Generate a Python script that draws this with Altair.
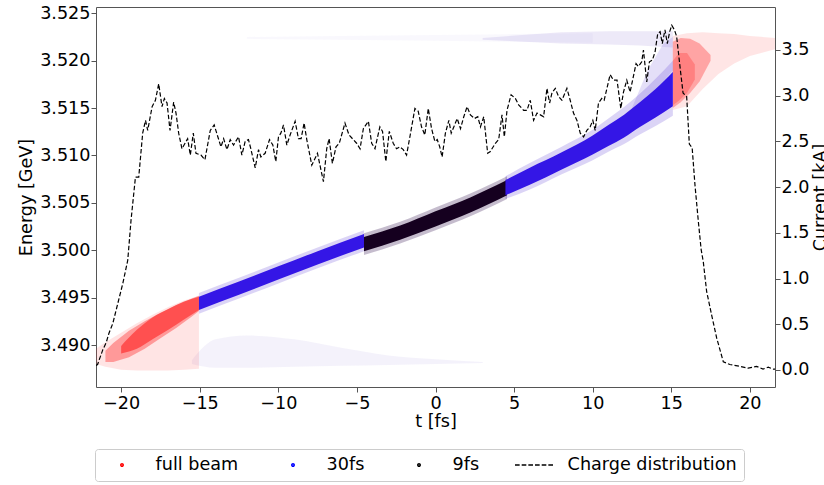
import altair as alt
import pandas as pd

# ---------------- axes ----------------
T_DOMAIN = [-21.6, 21.6]
E_DOMAIN = [3.48557, 3.52566]
I_DOMAIN = [-0.186, 3.970]
T_TICKS = [-20, -15, -10, -5, 0, 5, 10, 15, 20]
E_TICKS = [3.490, 3.495, 3.500, 3.505, 3.510, 3.515, 3.520, 3.525]
I_TICKS = [0.0, 0.5, 1.0, 1.5, 2.0, 2.5, 3.0, 3.5]

SERIES = ["full beam", "30fs", "9fs", "Charge distribution"]
SERIES_COLORS = ["#ff0000", "#0000ff", "#000000", "#000000"]

# ---------------- charge distribution (current, kA) ----------------
CUR_T = [-21.6, -21.5, -21.17, -20.95, -20.78, -20.53, -20.21, -19.89, -19.58, -19.37,
         -19.09, -18.88, -18.63, -18.45, -18.31, -18.03, -17.82, -17.61, -17.40, -17.25,
         -17.08, -16.89, -16.66, -16.51, -16.34, -16.13, -15.77, -15.60, -15.41, -15.24,
         -14.92, -14.67, -14.33, -14.08, -13.65, -13.48, -13.27, -13.06, -12.85, -12.53,
         -12.32, -12.11, -11.90, -11.75, -11.47, -11.26, -11.11, -10.84, -10.56, -10.35,
         -10.16, -9.99, -9.84, -9.67, -9.46, -9.25, -8.93, -8.72, -8.55, -8.36,
         -8.19, -7.87, -7.51, -7.13, -6.92, -6.77, -6.56, -6.33, -6.12, -5.76,
         -5.50, -5.23, -5.02, -4.80, -4.59, -4.27, -4.06, -3.85, -3.54, -3.37,
         -3.16, -2.94, -2.69, -2.48, -2.27, -2.05, -1.84, -1.63, -1.31, -1.10,
         -0.89, -0.68, -0.46, -0.25, -0.04, 0.11, 0.27, 0.42, 0.63, 0.85,
         1.00, 1.17, 1.38, 1.59, 1.80, 2.01, 2.22, 2.48, 2.69, 2.86,
         3.07, 3.32, 3.49, 3.81, 4.02, 4.23, 4.38, 4.55, 4.81, 5.08,
         5.29, 5.61, 5.82, 6.03, 6.24, 6.46, 6.67, 6.88, 7.09, 7.26,
         7.41, 7.62, 7.83, 8.04, 8.36, 8.57, 8.78, 9.00, 9.21, 9.42,
         9.63, 9.84, 10.01, 10.16, 10.37, 10.58, 10.73, 11.11, 11.32, 11.55,
         11.79, 11.96, 12.17, 12.38, 12.59, 12.76, 12.91, 13.12, 13.23, 13.44,
         13.61, 13.80, 13.97, 14.14, 14.29, 14.43, 14.60, 14.75, 14.90, 15.03,
         15.20, 15.34, 15.45, 15.60, 15.75, 15.98, 16.15, 16.33, 16.51, 16.72,
         16.90, 17.04, 17.25, 17.57, 17.89, 18.31, 18.73, 19.37, 19.89, 20.43,
         20.84, 21.17, 21.49, 21.6]
CUR_I = [0.05, 0.06, 0.22, 0.30, 0.40, 0.51, 0.73, 0.95, 1.20, 1.64,
         2.11, 2.11, 2.59, 2.73, 2.62, 2.88, 2.95, 3.13, 2.88, 2.97,
         2.92, 2.62, 2.93, 2.81, 2.59, 2.42, 2.53, 2.35, 2.59, 2.37,
         2.35, 2.30, 2.62, 2.68, 2.44, 2.53, 2.41, 2.52, 2.46, 2.55,
         2.35, 2.50, 2.52, 2.42, 2.21, 2.41, 2.33, 2.37, 2.52, 2.46,
         2.28, 2.55, 2.59, 2.68, 2.46, 2.57, 2.72, 2.53, 2.53, 2.70,
         2.52, 2.24, 2.37, 2.06, 2.42, 2.53, 2.26, 2.44, 2.48, 2.70,
         2.57, 2.52, 2.48, 2.42, 2.64, 2.72, 2.48, 2.42, 2.66, 2.61,
         2.28, 2.61, 2.48, 2.42, 2.44, 2.41, 2.35, 2.55, 2.86, 2.83,
         2.66, 2.57, 2.86, 2.64, 2.50, 2.52, 2.44, 2.33, 2.59, 2.73,
         2.59, 2.66, 2.75, 2.64, 2.77, 2.88, 2.79, 2.75, 2.77, 2.66,
         2.77, 2.37, 2.39, 2.48, 2.52, 2.79, 2.55, 2.84, 3.01, 2.97,
         2.90, 2.84, 2.84, 2.95, 2.73, 2.81, 2.79, 2.77, 3.08, 2.92,
         3.03, 3.08, 2.99, 2.95, 3.08, 2.95, 2.81, 2.73, 2.59, 2.55,
         2.62, 2.66, 2.73, 2.62, 2.92, 2.97, 2.95, 3.23, 3.17, 3.17,
         2.86, 3.04, 3.17, 3.04, 3.21, 3.35, 3.32, 3.37, 3.50, 3.15,
         3.37, 3.39, 3.48, 3.68, 3.70, 3.57, 3.72, 3.57, 3.70, 3.77,
         3.72, 3.65, 3.48, 3.25, 3.03, 2.99, 2.47, 2.43, 2.02, 1.63,
         1.32, 1.18, 0.86, 0.60, 0.35, 0.09, 0.06, 0.04, 0.02, 0.04,
         0.01, 0.03, 0.01, 0.01]

# ---------------- beam (energy bands, GeV) ----------------
LOWHALO_T = [-15.5, -14, -12, -9, -6, -3, 0, 3]
LOWHALO_LO = [3.4880, 3.4876, 3.4876, 3.4877, 3.4878, 3.4879, 3.4880, 3.4881]
LOWHALO_HI = [3.4884, 3.4906, 3.4910, 3.4906, 3.4897, 3.4889, 3.4885, 3.4882]

TOPFAINT_T = [-12, -6, 0, 5, 10]
TOPFAINT_LO = [3.5223, 3.5222, 3.5221, 3.5220, 3.5219]
TOPFAINT_HI = [3.5225, 3.5226, 3.5227, 3.5228, 3.5229]

TOPDENSE_T = [3, 8, 11, 13, 15.1]
TOPDENSE_LO = [3.5222, 3.5218, 3.5217, 3.5216, 3.5214]
TOPDENSE_HI = [3.5224, 3.5230, 3.5231, 3.5231, 3.5231]

BPLUME_T = [12.5, 13.5, 14.5, 15.1]
BPLUME_LO = [3.5145, 3.5160, 3.5178, 3.5190]
BPLUME_HI = [3.5150, 3.5190, 3.5218, 3.5225]

RLHALO_T = [-21.6, -21, -20, -19, -18, -17, -16, -15.05]
RLHALO_LO = [3.4880, 3.4877, 3.4874, 3.4873, 3.4873, 3.4873, 3.4874, 3.4875]
RLHALO_HI = [3.4896, 3.4903, 3.4913, 3.4923, 3.4932, 3.4940, 3.4947, 3.4952]

RLMID_T = [-21, -20.5, -19.5, -18.5, -17.5, -16.5, -15.5, -15.05]
RLMID_LO = [3.4882, 3.4882, 3.4887, 3.4896, 3.4907, 3.4918, 3.4930, 3.4936]
RLMID_HI = [3.4894, 3.4902, 3.4915, 3.4925, 3.4934, 3.4942, 3.4949, 3.4952]

RLCORE_T = [-20, -19, -18, -17, -16, -15.05]
RLCORE_LO = [3.4891, 3.4896, 3.4906, 3.4916, 3.4927, 3.4937]
RLCORE_HI = [3.4899, 3.4916, 3.4929, 3.4938, 3.4946, 3.4951]

RRHALO_T = [15.1, 16, 17, 18, 19, 20, 21.6]
RRHALO_LO = [3.5148, 3.5152, 3.5170, 3.5186, 3.5197, 3.5205, 3.5212]
RRHALO_HI = [3.5226, 3.5229, 3.5230, 3.5229, 3.5228, 3.5226, 3.5224]

RRDENSE_T = [15.1, 15.6, 16.2, 16.8, 17.5]
RRDENSE_LO = [3.5150, 3.5156, 3.5166, 3.5178, 3.5200]
RRDENSE_HI = [3.5220, 3.5224, 3.5223, 3.5218, 3.5206]

RRCORE_T = [15.1, 15.5, 16.0, 16.5]
RRCORE_LO = [3.5153, 3.5158, 3.5166, 3.5180]
RRCORE_HI = [3.5200, 3.5208, 3.5208, 3.5196]

BLHALO_T = [-15.05, -12.5, -10, -7.5, -4.55]
BLHALO_LO = [3.4933, 3.4949, 3.4965, 3.4981, 3.4999]
BLHALO_HI = [3.4955, 3.4971, 3.4987, 3.5003, 3.5021]

BLCORE_T = [-15.05, -12.5, -10, -7.5, -4.55]
BLCORE_LO = [3.4937, 3.4953, 3.4969, 3.4985, 3.5003]
BLCORE_HI = [3.4951, 3.4967, 3.4983, 3.4999, 3.5017]

KHALO_T = [-4.55, -2.25, 0, 2.25, 4.55]
KHALO_LO = [3.4995, 3.5007, 3.5021, 3.5036, 3.5054]
KHALO_HI = [3.5018, 3.5030, 3.5045, 3.5060, 3.5078]

KCORE_T = [-4.55, -2.25, 0, 2.25, 4.55]
KCORE_LO = [3.4999, 3.5011, 3.5025, 3.5040, 3.5058]
KCORE_HI = [3.5014, 3.5026, 3.5041, 3.5056, 3.5074]

BRHALO_T = [4.45, 6, 8, 10, 11, 12, 13, 14, 15.1]
BRHALO_LO = [3.5054, 3.5064, 3.5080, 3.5095, 3.5104, 3.5112, 3.5122, 3.5131, 3.5142]
BRHALO_HI = [3.5078, 3.5092, 3.5109, 3.5127, 3.5139, 3.5151, 3.5165, 3.5181, 3.5200]

BRCORE_T = [4.45, 6, 8, 10, 11, 12, 13, 14, 15.1]
BRCORE_LO = [3.5058, 3.5069, 3.5085, 3.5101, 3.5110, 3.5119, 3.5130, 3.5140, 3.5152]
BRCORE_HI = [3.5074, 3.5087, 3.5103, 3.5121, 3.5132, 3.5143, 3.5156, 3.5170, 3.5188]

FONT = "DejaVu Sans"
FS = 17.6

x_enc = alt.X(
    "t:Q",
    scale=alt.Scale(domain=T_DOMAIN, nice=False, zero=False),
    axis=alt.Axis(values=T_TICKS, format="d", title="t [fs]", tickSize=5, labelPadding=2,
                  titleX=339.5, titleY=39.5, titleBaseline="alphabetic", titleAlign="center"),
)

e_scale = alt.Scale(domain=E_DOMAIN, nice=False, zero=False)
e_axis = alt.Axis(values=E_TICKS, format=".3f", title="Energy [GeV]", tickSize=5, labelPadding=1,
                  titleAngle=270, titleX=-64.3, titleY=190, titleAlign="center",
                  titleBaseline="alphabetic")


def band(t, lo, hi, color, opacity, interp="linear"):
    df = pd.DataFrame({"t": t, "lo": lo, "hi": hi})
    return alt.Chart(df).mark_area(color=color, opacity=opacity, clip=True,
                                   interpolate=interp).encode(
        x=x_enc,
        y=alt.Y("lo:Q", scale=e_scale, axis=e_axis),
        y2="hi:Q",
    )


layers = [
    band(LOWHALO_T, LOWHALO_LO, LOWHALO_HI, "#8a70d0", 0.09, "monotone"),
    band(TOPFAINT_T, TOPFAINT_LO, TOPFAINT_HI, "#9a80d8", 0.06),
    band(TOPDENSE_T, TOPDENSE_LO, TOPDENSE_HI, "#8060d0", 0.14),
    band(BPLUME_T, BPLUME_LO, BPLUME_HI, "#6a50d8", 0.18),
    band(RLHALO_T, RLHALO_LO, RLHALO_HI, "#ff4040", 0.14),
    band(RLMID_T, RLMID_LO, RLMID_HI, "#ff3333", 0.42),
    band(RRHALO_T, RRHALO_LO, RRHALO_HI, "#ff4a4a", 0.14),
    band(RRDENSE_T, RRDENSE_LO, RRDENSE_HI, "#ff3a3a", 0.38),
    band(RRCORE_T, RRCORE_LO, RRCORE_HI, "#ff3030", 0.30),
    band(BLHALO_T, BLHALO_LO, BLHALO_HI, "#5a3cd8", 0.22, "monotone"),
    band(BRHALO_T, BRHALO_LO, BRHALO_HI, "#5a3cd8", 0.22, "monotone"),
    band(KHALO_T, KHALO_LO, KHALO_HI, "#30104a", 0.28, "monotone"),
    band(RLCORE_T, RLCORE_LO, RLCORE_HI, "#ff1f1f", 0.6, "monotone"),
    band(BLCORE_T, BLCORE_LO, BLCORE_HI, "#3416e6", 1.0, "monotone"),
    band(KCORE_T, KCORE_LO, KCORE_HI, "#15001f", 1.0, "monotone"),
    band(BRCORE_T, BRCORE_LO, BRCORE_HI, "#3416e6", 1.0, "monotone"),
]

# legend-only layer (no drawable coordinates -> filtered out)
DOT = "M0.065,0A0.065,0.065 0 1,1 -0.065,0A0.065,0.065 0 1,1 0.065,0Z"
DASH = ("M-1,0L-0.755,0M-0.649,0L-0.404,0M-0.298,0L-0.053,0"
        "M0.053,0L0.298,0M0.404,0L0.649,0M0.755,0L1,0")
leg = alt.Legend(title=None, orient="none", legendX=-1, legendY=442, direction="horizontal",
                 columns=4, padding=7, strokeColor="#cccccc", fillColor="white",
                 cornerRadius=3, labelFont=FONT, labelFontSize=FS, labelColor="black",
                 labelOffset=13.6, columnPadding=34, symbolSize=1444, clipHeight=18,
                 labelLimit=400, symbolStrokeWidth=1.5)
leg_df = pd.DataFrame({"series": SERIES, "t": [None] * 4, "E": [None] * 4})
legend_layer = alt.Chart(leg_df).mark_point(filled=False, size=1444, opacity=1,
                                            strokeWidth=1.5).encode(
    x=x_enc,
    y=alt.Y("E:Q", scale=e_scale, axis=e_axis),
    color=alt.Color("series:N", scale=alt.Scale(domain=SERIES, range=SERIES_COLORS), legend=leg),
    shape=alt.Shape("series:N", scale=alt.Scale(domain=SERIES, range=[DOT, DOT, DOT, DASH]),
                    legend=leg),
)

beam = alt.layer(*layers, legend_layer)

cur_df = pd.DataFrame({"t": CUR_T, "I": CUR_I})
line = alt.Chart(cur_df).mark_line(color="black", strokeWidth=1.2, strokeDash=[4.5, 2.2],
                                   clip=True).encode(
    x=x_enc,
    y=alt.Y("I:Q", scale=alt.Scale(domain=I_DOMAIN, nice=False, zero=False),
            axis=alt.Axis(orient="right", values=I_TICKS, format=".1f", title="Current [kA]",
                          tickSize=5, labelPadding=1, titleAngle=270, titleX=50.8, titleY=190,
                          titleAlign="center", titleBaseline="alphabetic")),
)

chart = alt.layer(beam, line).resolve_scale(y="independent").properties(
    width=679, height=380,
    autosize=alt.AutoSizeParams(type="none"),
    padding={"left": 96, "top": 7, "right": 49, "bottom": 98},
).configure_axis(
    labelFont=FONT, titleFont=FONT, labelFontSize=FS, titleFontSize=FS,
    labelColor="black", titleColor="black", titleFontWeight="normal",
    tickColor="#555555", domain=False, grid=False,
).configure_view(stroke="#555555", strokeWidth=1)

chart.save("out.html", embed_options={"renderer": "svg", "actions": False})
